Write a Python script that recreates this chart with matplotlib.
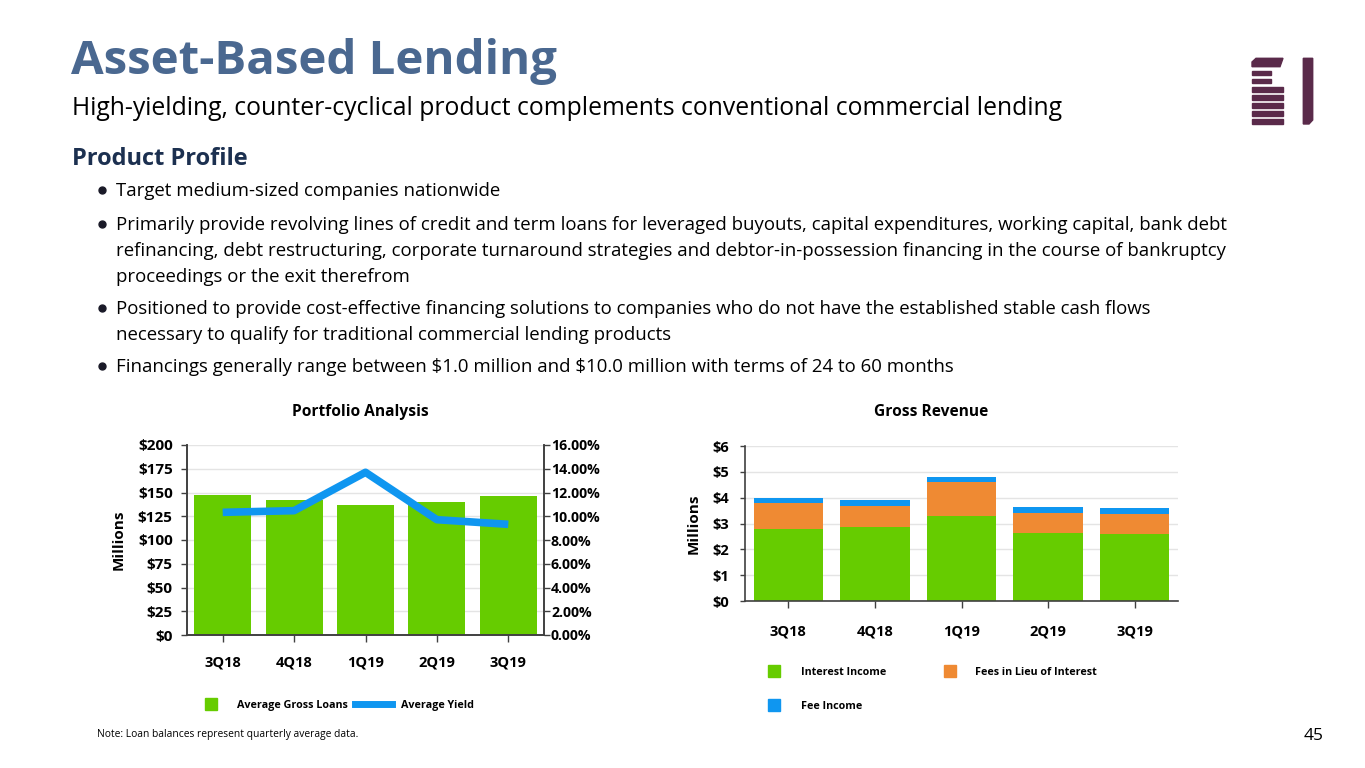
import matplotlib
matplotlib.use("Agg")
import matplotlib.pyplot as plt
from matplotlib.patches import Rectangle, Polygon
from matplotlib.lines import Line2D
import numpy as np

plt.rcParams['font.family'] = ['Open Sans', 'DejaVu Sans']

W, H = 1365, 768

# ---------------- data ----------------
quarters = ["3Q18", "4Q18", "1Q19", "2Q19", "3Q19"]
avg_gross_loans = [147.4, 142.0, 136.5, 140.0, 146.0]      # $ millions
avg_yield = [10.33, 10.47, 13.70, 9.71, 9.32]               # percent

interest_income = [2.77, 2.85, 3.28, 2.63, 2.60]            # $ millions
fees_in_lieu = [1.01, 0.84, 1.34, 0.77, 0.77]
fee_income = [0.20, 0.22, 0.17, 0.24, 0.24]

left_yticks = [0, 25, 50, 75, 100, 125, 150, 175, 200]
left_ylabels = ["\\$0", "\\$25", "\\$50", "\\$75", "\\$100", "\\$125", "\\$150", "\\$175", "\\$200"]
right_yticks = [0, 2, 4, 6, 8, 10, 12, 14, 16]
right_ylabels = ["0.00%", "2.00%", "4.00%", "6.00%", "8.00%", "10.00%", "12.00%", "14.00%", "16.00%"]
rev_yticks = [0, 1, 2, 3, 4, 5, 6]
rev_ylabels = ["\\$0", "\\$1", "\\$2", "\\$3", "\\$4", "\\$5", "\\$6"]

bullets = [
    ["Target medium-sized companies nationwide"],
    ["Primarily provide revolving lines of credit and term loans for leveraged buyouts, capital expenditures, working capital, bank debt",
     "refinancing, debt restructuring, corporate turnaround strategies and debtor-in-possession financing in the course of bankruptcy",
     "proceedings or the exit therefrom"],
    ["Positioned to provide cost-effective financing solutions to companies who do not have the established stable cash flows",
     "necessary to qualify for traditional commercial lending products"],
    ["Financings generally range between \\$1.0 million and \\$10.0 million with terms of 24 to 60 months"],
]

GREEN = "#66CC00"
ORANGE = "#EF8A33"
BLUE = "#0F96F0"
GRID = "#E4E4E4"
SPINE = "#404040"
TITLE_C = "#4A6890"
NAVY = "#1C3050"
LOGO = "#5A2A4A"

fig = plt.figure(figsize=(W / 100, H / 100), dpi=100)
fig.patch.set_facecolor("white")


def fx(x):
    return x / W


def fy(y):
    return 1 - y / H


def T(x, y, s, **kw):
    kw.setdefault("va", "baseline")
    fig.text(fx(x), fy(y), s, **kw)


# ---------------- header text ----------------
T(71, 74, "Asset-Based Lending", fontsize=34.1, fontweight="bold", color=TITLE_C)
T(72, 115, "High-yielding, counter-cyclical product complements conventional commercial lending",
  fontsize=17.85, color="black")
T(72, 165, "Product Profile", fontsize=17, fontweight="bold", color=NAVY)

line_y = [[196], [230, 256, 282], [314, 340], [372]]
for lines, ys in zip(bullets, line_y):
    fig.lines.append(Line2D([fx(101.5)], [fy(ys[0] - 6)], transform=fig.transFigure,
                            marker="o", markersize=5, color="#1A1A28", linestyle="none"))
    for s, y in zip(lines, ys):
        T(116, y, s, fontsize=13.4, color="black")

T(97, 737, "Note: Loan balances represent quarterly average data.", fontsize=7.4, color="black")
T(1304, 740, "45", fontsize=12.5, color="black")

# ---------------- logo ----------------
def rect_px(x0, y0, x1, y1, **kw):
    fig.patches.append(Rectangle((fx(x0), fy(y1)), fx(x1 - x0), (y1 - y0) / H,
                                 transform=fig.transFigure, **kw))


def poly_px(pts, **kw):
    fig.patches.append(Polygon([(fx(a), fy(b)) for a, b in pts], closed=True,
                               transform=fig.transFigure, **kw))

poly_px([(1252, 66.7), (1252, 62), (1256, 58.3), (1283, 58.3), (1280, 66.7)], color=LOGO)
rect_px(1252, 70.7, 1271, 75, color=LOGO)
rect_px(1252, 79, 1271, 83.3, color=LOGO)
for y0 in [87.3, 95.3, 103.3, 111.3, 119.3]:
    rect_px(1252, y0, 1283, y0 + 4.4, color=LOGO)
poly_px([(1303.3, 58.3), (1312.7, 58.3), (1312.7, 120), (1309, 124), (1303.3, 124)], color=LOGO)

# ---------------- Portfolio Analysis ----------------
x = np.arange(len(quarters))
ax1 = fig.add_axes([fx(187), fy(635), fx(544 - 187), 190 / H])
ax1.bar(x, avg_gross_loans, width=0.8, color=GREEN, zorder=2)
ax1.set_xlim(-0.5, 4.5)
ax1.set_ylim(0, 200)
ax1.set_yticks(left_yticks)
ax1.set_yticklabels(left_ylabels)
ax1.grid(axis="y", color=GRID, linewidth=1, zorder=0)
ax1.set_axisbelow(True)
ax1.set_xticks(x)
ax1.set_xticklabels(quarters)
ax2 = ax1.twinx()
ax2.plot(x, avg_yield, color=BLUE, linewidth=5.5, solid_capstyle="butt", zorder=3)
ax2.set_ylim(0, 16)
ax2.set_yticks(right_yticks)
ax2.set_yticklabels(right_ylabels)
for a in (ax1, ax2):
    a.spines["top"].set_visible(False)
    for sp in ("left", "right", "bottom"):
        a.spines[sp].set_color(SPINE)
        a.spines[sp].set_linewidth(1.2)
ax1.tick_params(axis="y", length=4.3, width=1, color=SPINE, pad=6, labelsize=11)
ax2.tick_params(axis="y", length=4, width=1, color=SPINE, pad=1, labelsize=10.2)
ax1.tick_params(axis="x", length=5, width=1, color=SPINE, pad=10, labelsize=10.5)
for lab in ax1.get_yticklabels() + ax2.get_yticklabels() + ax1.get_xticklabels():
    lab.set_fontweight("bold")
ax1.set_ylabel("Millions", fontsize=11, fontweight="bold", labelpad=9)

T(360, 416, "Portfolio Analysis", fontsize=11.2, fontweight="bold", ha="center")

# legend
rect_px(205, 698, 217, 710, color=GREEN)
T(237, 708, "Average Gross Loans", fontsize=7.75, fontweight="bold")
fig.lines.append(Line2D([fx(355), fx(392)], [fy(704), fy(704)], transform=fig.transFigure,
                        color=BLUE, linewidth=5))
T(401, 708, "Average Yield", fontsize=7.75, fontweight="bold")

# ---------------- Gross Revenue ----------------
ax3 = fig.add_axes([fx(745), fy(601), fx(1178 - 745), 155 / H])
b1 = np.array(interest_income)
b2 = np.array(fees_in_lieu)
b3 = np.array(fee_income)
ax3.bar(x, b1, width=0.8, color=GREEN, zorder=2)
ax3.bar(x, b2, width=0.8, bottom=b1, color=ORANGE, zorder=2)
ax3.bar(x, b3, width=0.8, bottom=b1 + b2, color=BLUE, zorder=2)
ax3.set_xlim(-0.5, 4.5)
ax3.set_ylim(0, 6)
ax3.set_yticks(rev_yticks)
ax3.set_yticklabels(rev_ylabels)
ax3.set_xticks(x)
ax3.set_xticklabels(quarters)
ax3.grid(axis="y", color=GRID, linewidth=1, zorder=0)
ax3.set_axisbelow(True)
for sp in ("top", "right"):
    ax3.spines[sp].set_visible(False)
for sp in ("left", "bottom"):
    ax3.spines[sp].set_color(SPINE)
    ax3.spines[sp].set_linewidth(1.2)
ax3.tick_params(axis="y", length=3.6, width=1, color=SPINE, pad=8, labelsize=10.5)
ax3.tick_params(axis="x", length=5, width=1, color=SPINE, pad=12, labelsize=10.5)
for lab in ax3.get_yticklabels() + ax3.get_xticklabels():
    lab.set_fontweight("bold")
ax3.set_ylabel("Millions", fontsize=11, fontweight="bold", labelpad=8)

T(931, 416, "Gross Revenue", fontsize=11.2, fontweight="bold", ha="center")

rect_px(768, 665, 780, 677, color=GREEN)
T(801, 675, "Interest Income", fontsize=7.75, fontweight="bold")
rect_px(944, 665, 956, 677, color=ORANGE)
T(975, 675, "Fees in Lieu of Interest", fontsize=7.75, fontweight="bold")
rect_px(768, 699, 780, 711, color=BLUE)
T(801, 709, "Fee Income", fontsize=7.75, fontweight="bold")

fig.savefig("out.png", dpi=100, facecolor="white")
